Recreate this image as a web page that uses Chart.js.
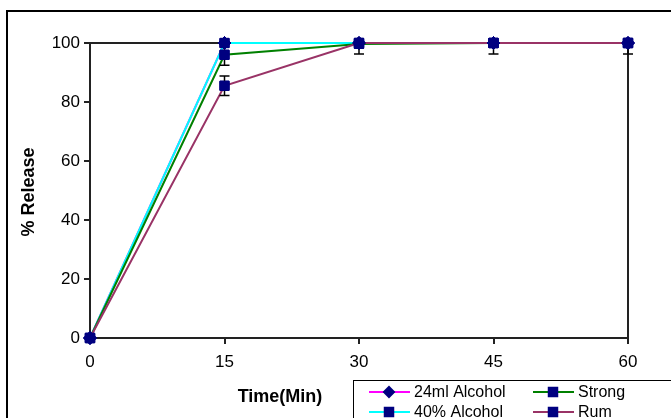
<!DOCTYPE html>
<html>
<head>
<meta charset="utf-8">
<script src="https://cdn.jsdelivr.net/npm/chart.js@4/dist/chart.umd.min.js"></script>
<style>
  html, body { margin: 0; padding: 0; background: #fff; overflow: hidden; }
  #frame { position: absolute; left: 6px; top: 10px; width: 700px; height: 450px; border: 2px solid #000; }
  #wrap { position: absolute; left: 0; top: 0; width: 671px; height: 418px; }
</style>
</head>
<body>
<div id="frame"></div>
<div id="wrap"><canvas id="releaseChart" width="671" height="418"></canvas></div>
<script>
// data
const timeLabels = [0, 15, 30, 45, 60];
const yTicks = [0, 20, 40, 60, 80, 100];

const alcohol24 = [0, 100, 100, 100, 100];
const alcohol40 = [0, 100, 100, 100, 100];
const strong = [0, 96, 99.7, 100, 100];
const rum = [0, 85.5, 100, 100, 100];

// error bars (sd), only visible ones
const err24 = [0, 0, 0, 0, 0];
const err40 = [0, 0, 0, 0, 0];
const errStrong = [0, 3.5, 0, 0, 0];
const errRum = [0, 3.3, 3.7, 3.7, 3.7];

const FONT = '"Liberation Sans", Arial, sans-serif';
const AXIS = '#222';

function toPoints(vals) {
    return vals.map((v, i) => ({ x: timeLabels[i], y: v }));
}

function makeSet(label, vals, errs, color, style, order) {
    return {
        label: label,
        data: toPoints(vals),
        errors: errs,
        order: order,
        borderColor: color,
        backgroundColor: '#000080',
        pointBackgroundColor: '#000080',
        pointBorderColor: '#000080',
        pointBorderWidth: 1,
        pointStyle: style,
        pointRadius: 6.5,
        borderWidth: 2,
        tension: 0,
        fill: false
    };
}

// plot area border (drawn under the lines)
const plotBorder = {
    id: 'plotBorder',
    beforeDatasetsDraw(chart) {
        const a = chart.chartArea;
        const ctx = chart.ctx;
        ctx.save();
        ctx.strokeStyle = AXIS;
        ctx.lineWidth = 2;
        ctx.strokeRect(a.left, a.top, a.right - a.left, a.bottom - a.top);
        ctx.restore();
    }
};

// error bars after lines, then markers again on top
const errorBars = {
    id: 'errorBars',
    afterDatasetsDraw(chart) {
        const ctx = chart.ctx;
        const xs = chart.scales.x, ys = chart.scales.y;
        const a = chart.chartArea;
        ctx.save();
        ctx.beginPath();
        ctx.rect(a.left - 10, a.top, a.right - a.left + 20, a.bottom - a.top);
        ctx.clip();
        ctx.strokeStyle = '#000';
        ctx.lineWidth = 1.5;
        chart.data.datasets.forEach(ds => {
            ds.data.forEach((p, i) => {
                const e = ds.errors[i];
                if (!e) return;
                const x = xs.getPixelForValue(p.x);
                const yHi = ys.getPixelForValue(p.y + e);
                const yLo = ys.getPixelForValue(p.y - e);
                ctx.beginPath();
                ctx.moveTo(x, yHi); ctx.lineTo(x, yLo);
                ctx.moveTo(x - 5, yHi); ctx.lineTo(x + 5, yHi);
                ctx.moveTo(x - 5, yLo); ctx.lineTo(x + 5, yLo);
                ctx.stroke();
            });
        });
        ctx.restore();
        const metas = chart.getSortedVisibleDatasetMetas();
        for (let i = metas.length - 1; i >= 0; i--) {
            metas[i].data.forEach(pt => pt.draw(ctx, a));
        }
    }
};

// axis titles and the boxed legend
const extras = {
    id: 'extras',
    afterDraw(chart) {
        const ctx = chart.ctx;
        ctx.save();
        ctx.fillStyle = '#000';
        ctx.font = 'bold 18px ' + FONT;
        ctx.textAlign = 'center';
        ctx.textBaseline = 'middle';
        ctx.fillText('Time(Min)', 280, 397);
        ctx.translate(29, 192);
        ctx.rotate(-Math.PI / 2);
        ctx.fillText('% Release', 0, 0);
        ctx.restore();

        // legend box
        ctx.save();
        ctx.strokeStyle = '#000';
        ctx.lineWidth = 1;
        ctx.strokeRect(353.5, 380.5, 340, 60);
        ctx.font = '16px ' + FONT;
        ctx.textBaseline = 'middle';
        ctx.textAlign = 'left';
        const cols = [369, 533];
        const rows = [392, 412];
        const order = [0, 2, 1, 3];
        order.forEach((di, k) => {
            const ds = chart.data.datasets[di];
            const x0 = cols[k % 2];
            const y0 = rows[k < 2 ? 0 : 1];
            ctx.strokeStyle = ds.borderColor;
            ctx.lineWidth = 2;
            ctx.beginPath();
            ctx.moveTo(x0, y0); ctx.lineTo(x0 + 41, y0);
            ctx.stroke();
            ctx.fillStyle = '#000080';
            ctx.strokeStyle = '#000080';
            Chart.helpers.drawPoint(ctx, { pointStyle: ds.pointStyle, radius: ds.pointStyle === 'rectRot' ? 5 : 6, borderWidth: 1 }, x0 + 20, y0);
            ctx.fillStyle = '#000';
            ctx.fillText(ds.label, x0 + 45, y0 + 1);
        });
        ctx.restore();
    }
};

const ctx = document.getElementById('releaseChart').getContext('2d');
new Chart(ctx, {
    type: 'line',
    data: {
        datasets: [
            makeSet('24ml Alcohol', alcohol24, err24, '#FF00FF', 'rectRot', 4),
            makeSet('40% Alcohol', alcohol40, err40, '#00FFFF', 'rect', 3),
            makeSet('Strong', strong, errStrong, '#008000', 'rect', 2),
            makeSet('Rum', rum, errRum, '#993366', 'rect', 1)
        ]
    },
    options: {
        responsive: false,
        animation: false,
        clip: false,
        layout: { padding: { left: 0, top: 43, right: 43, bottom: 0 } },
        plugins: { legend: { display: false }, tooltip: { enabled: false } },
        scales: {
            x: {
                type: 'linear',
                min: 0, max: 60,
                afterBuildTicks: s => { s.ticks = timeLabels.map(v => ({ value: v })); },
                afterFit: s => { s.height = 80; },
                border: { display: false },
                grid: { drawOnChartArea: false, drawTicks: true, tickLength: 6, color: AXIS, lineWidth: 2 },
                ticks: { color: '#000', font: { family: FONT, size: 17 }, padding: 8, maxRotation: 0 }
            },
            y: {
                min: 0, max: 100,
                afterBuildTicks: s => { s.ticks = yTicks.map(v => ({ value: v })); },
                afterFit: s => { s.width = 90; },
                border: { display: false },
                grid: { drawOnChartArea: false, drawTicks: true, tickLength: 6, color: AXIS, lineWidth: 2 },
                ticks: { color: '#000', font: { family: FONT, size: 17 }, padding: 4 }
            }
        }
    },
    plugins: [plotBorder, errorBars, extras]
});
</script>
</body>
</html>
